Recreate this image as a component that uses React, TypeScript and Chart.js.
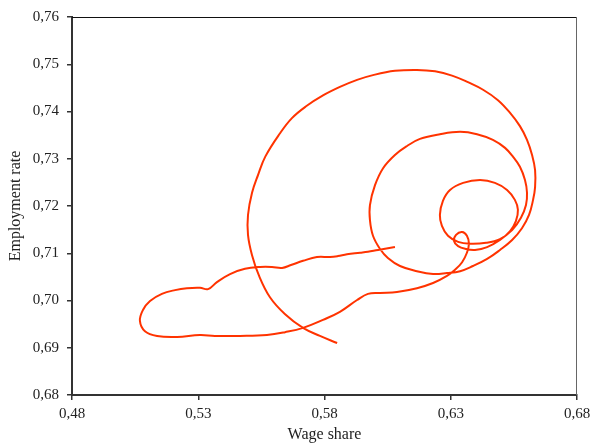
import React, { useEffect, useRef } from "react";
import { Chart, registerables } from "chart.js";

Chart.register(...registerables);

// Trajectory: wage share (x) and employment rate (y), in path order
const wageShare = [
  0.5850, 0.5782, 0.5715, 0.5644, 0.5584, 0.5541, 0.5513, 0.5497, 0.5497, 0.5513,
  0.5537, 0.5566, 0.5624, 0.5671, 0.5727, 0.5794, 0.5861, 0.5929, 0.5992, 0.6079,
  0.6166, 0.6238, 0.6305, 0.6368, 0.6428, 0.6487, 0.6535, 0.6574, 0.6602, 0.6622,
  0.6634, 0.6634, 0.6626, 0.6610, 0.6582, 0.6543, 0.6495, 0.6444, 0.6388, 0.6337,
  0.6285, 0.6230, 0.6166, 0.6099, 0.6051, 0.6020, 0.5992, 0.5980, 0.5980, 0.6000,
  0.6032, 0.6079, 0.6127, 0.6178, 0.6257, 0.6337, 0.6404, 0.6467, 0.6515, 0.6547,
  0.6574, 0.6594, 0.6602, 0.6598, 0.6578, 0.6543, 0.6495, 0.6440, 0.6376, 0.6329,
  0.6289, 0.6265, 0.6257, 0.6269, 0.6297, 0.6349, 0.6416, 0.6475, 0.6523, 0.6554,
  0.6566, 0.6558, 0.6535, 0.6495, 0.6444, 0.6396, 0.6360, 0.6329, 0.6313, 0.6321,
  0.6345, 0.6364, 0.6372, 0.6364, 0.6345, 0.6317, 0.6285, 0.6230, 0.6166, 0.6087,
  0.6020, 0.5972, 0.5929, 0.5861, 0.5794, 0.5715, 0.5644, 0.5572, 0.5465, 0.5366,
  0.5307, 0.5216, 0.5137, 0.5089, 0.5069, 0.5081, 0.5109, 0.5156, 0.5208, 0.5255,
  0.5307, 0.5339, 0.5374, 0.5426, 0.5485, 0.5545, 0.5592, 0.5632, 0.5667, 0.5715,
  0.5770, 0.5822, 0.5853, 0.5889, 0.5941, 0.5972, 0.6012, 0.6079,
];

const employmentRate = [
  0.6910, 0.6925, 0.6942, 0.6971, 0.7007, 0.7052, 0.7096, 0.7139, 0.7181, 0.7228,
  0.7266, 0.7305, 0.7354, 0.7386, 0.7411, 0.7434, 0.7452, 0.7467, 0.7477, 0.7486,
  0.7488, 0.7485, 0.7476, 0.7462, 0.7446, 0.7424, 0.7397, 0.7369, 0.7340, 0.7308,
  0.7276, 0.7240, 0.7213, 0.7181, 0.7153, 0.7128, 0.7107, 0.7088, 0.7073, 0.7062,
  0.7058, 0.7056, 0.7062, 0.7073, 0.7090, 0.7109, 0.7137, 0.7170, 0.7202, 0.7244,
  0.7280, 0.7308, 0.7327, 0.7342, 0.7352, 0.7357, 0.7352, 0.7340, 0.7323, 0.7304,
  0.7283, 0.7255, 0.7228, 0.7202, 0.7175, 0.7149, 0.7130, 0.7122, 0.7120, 0.7124,
  0.7137, 0.7158, 0.7181, 0.7211, 0.7234, 0.7249, 0.7255, 0.7249, 0.7234, 0.7213,
  0.7192, 0.7168, 0.7147, 0.7128, 0.7113, 0.7107, 0.7109, 0.7115, 0.7126, 0.7139,
  0.7145, 0.7137, 0.7120, 0.7101, 0.7081, 0.7065, 0.7052, 0.7037, 0.7026, 0.7018,
  0.7016, 0.7014, 0.7001, 0.6976, 0.6959, 0.6942, 0.6933, 0.6927, 0.6925, 0.6925,
  0.6927, 0.6923, 0.6925, 0.6935, 0.6957, 0.6980, 0.6999, 0.7014, 0.7022, 0.7026,
  0.7027, 0.7024, 0.7039, 0.7056, 0.7067, 0.7071, 0.7071, 0.7069, 0.7075, 0.7084,
  0.7092, 0.7092, 0.7094, 0.7098, 0.7101, 0.7103, 0.7107, 0.7113,
];

const xTickValues = [0.48, 0.53, 0.58, 0.63, 0.68];
const yTickValues = [0.68, 0.69, 0.70, 0.71, 0.72, 0.73, 0.74, 0.75, 0.76];

const xTitle = "Wage share";
const yTitle = "Employment rate";

const fmt = (v: number) => v.toFixed(2).replace(".", ",");

const frame = {
  id: "frame",
  afterDraw(chart: any) {
    const { ctx, chartArea } = chart;
    const { left, right, top, bottom } = chartArea;
    ctx.save();
    ctx.lineWidth = 1;
    ctx.strokeStyle = "#111";
    ctx.beginPath();
    ctx.moveTo(left, top + 0.5);
    ctx.lineTo(right, top + 0.5);
    ctx.stroke();
    ctx.strokeStyle = "#666";
    ctx.beginPath();
    ctx.moveTo(right - 0.5, top);
    ctx.lineTo(right - 0.5, bottom);
    ctx.stroke();
    ctx.restore();
  },
};

export default function App() {
  const ref = useRef<HTMLCanvasElement>(null);
  useEffect(() => {
    const canvas = ref.current;
    if (!canvas) return;
    const fontFamily = "'Liberation Serif', 'DejaVu Serif', serif";
    const chart = new Chart(canvas, {
      type: "scatter",
      data: {
        datasets: [
          {
            data: wageShare.map((x, i) => ({ x, y: employmentRate[i] })),
            showLine: true,
            borderColor: "#ff3300",
            backgroundColor: "#ff3300",
            borderWidth: 2,
            pointRadius: 0,
            tension: 0.4,
            fill: false,
          },
        ],
      },
      options: {
        responsive: false,
        animation: false,
        layout: { padding: { left: 0, right: 13, top: 17, bottom: 0 } },
        plugins: {
          legend: { display: false },
          tooltip: { enabled: false },
        },
        scales: {
          x: {
            type: "linear",
            min: 0.48,
            max: 0.68,
            afterBuildTicks: (s: any) => {
              s.ticks = xTickValues.map((v) => ({ value: v }));
            },
            afterFit: (s: any) => {
              s.height = 50;
              s.paddingLeft = 0;
              s.paddingRight = 0;
            },
            grid: {
              drawOnChartArea: false,
              drawTicks: true,
              tickLength: 5,
              color: "#333",
              lineWidth: 1.5,
            },
            border: { display: true, color: "#333", width: 2 },
            ticks: {
              callback: (v: any) => fmt(Number(v)),
              color: "#222",
              font: { family: fontFamily, size: 15 },
              padding: 5,
              maxRotation: 0,
              autoSkip: false,
            },
            title: {
              display: true,
              text: xTitle,
              color: "#222",
              font: { family: fontFamily, size: 16 },
              padding: { top: 0, bottom: 1 },
            },
          },
          y: {
            type: "linear",
            min: 0.68,
            max: 0.76,
            afterBuildTicks: (s: any) => {
              s.ticks = yTickValues.map((v) => ({ value: v }));
            },
            afterFit: (s: any) => {
              s.width = 72;
              s.paddingTop = 0;
              s.paddingBottom = 0;
            },
            grid: {
              drawOnChartArea: false,
              drawTicks: true,
              tickLength: 5,
              color: "#333",
              lineWidth: 1.5,
            },
            border: { display: true, color: "#333", width: 2 },
            ticks: {
              callback: (v: any) => fmt(Number(v)),
              color: "#222",
              font: { family: fontFamily, size: 15 },
              padding: 8,
              autoSkip: false,
            },
            title: {
              display: true,
              text: yTitle,
              color: "#222",
              font: { family: fontFamily, size: 16 },
              padding: { top: 6, bottom: 0 },
            },
          },
        },
      },
      plugins: [frame],
    });
    return () => chart.destroy();
  }, []);
  return (
    <div style={{ position: "absolute", left: 0, top: 0, width: 590, height: 445, background: "#fff" }}>
      <canvas ref={ref} width={590} height={445} style={{ width: 590, height: 445, display: "block" }} />
    </div>
  );
}
